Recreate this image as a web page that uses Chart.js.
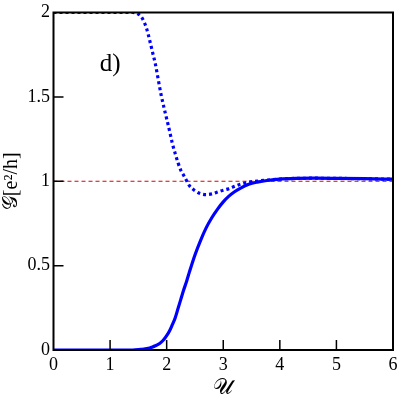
<!DOCTYPE html>
<html>
<head>
<meta charset="utf-8">
<script src="https://cdn.jsdelivr.net/npm/chart.js@4.4.1/dist/chart.umd.min.js"></script>
<style>
html,body{margin:0;padding:0;background:#fff;}
#wrap{width:399px;height:402px;position:relative;}
</style>
</head>
<body>
<div id="wrap"><canvas id="c" width="399" height="402"></canvas></div>
<script>
// Data
const uValues = [0, 1.0, 1.4, 1.5, 1.55, 1.6, 1.65, 1.7, 1.75, 1.8, 1.85, 1.9, 1.95, 2.0, 2.05, 2.1, 2.15, 2.2, 2.25, 2.3, 2.35, 2.4, 2.5, 2.6, 2.7, 2.8, 2.9, 3.0, 3.1, 3.2, 3.3, 3.45, 3.6, 3.8, 4.0, 4.3, 4.6, 5.0, 5.5, 6.0];
const solidG = [0, 0, 0, 0.002, 0.004, 0.006, 0.008, 0.012, 0.018, 0.025, 0.033, 0.045, 0.062, 0.085, 0.113, 0.15, 0.19, 0.245, 0.30, 0.355, 0.405, 0.46, 0.563, 0.65, 0.725, 0.785, 0.835, 0.878, 0.912, 0.938, 0.958, 0.982, 0.995, 1.006, 1.013, 1.017, 1.018, 1.017, 1.015, 1.012];
const dottedG = [2, 2, 2, 1.99, 1.975, 1.945, 1.90, 1.835, 1.765, 1.695, 1.605, 1.515, 1.44, 1.37, 1.30, 1.225, 1.165, 1.11, 1.065, 1.035, 1.005, 0.975, 0.944, 0.926, 0.921, 0.925, 0.936, 0.947, 0.956, 0.97, 0.982, 0.994, 1.001, 1.007, 1.013, 1.017, 1.018, 1.017, 1.015, 1.012];
const refU = [0, 6];
const refG = [1, 1];
const xTicks = [0, 1, 2, 3, 4, 5, 6];
const yTicks = [0, 0.5, 1, 1.5, 2];
const panelLabel = 'd)';
const panelLabelPos = [1.0, 1.69];
const xTitle = '𝒰';
const yTitle = '𝒢[e²/h]';

const pts = (xs, ys) => xs.map((x, i) => ({x: x, y: ys[i]}));
const SERIF = '"Liberation Serif"';

const frameAndTicks = {
  id: 'frameAndTicks',
  afterDatasetsDraw(chart) {
    const {ctx, chartArea: a, scales: {x, y}} = chart;
    ctx.save();
    ctx.strokeStyle = '#000';
    ctx.lineWidth = 1.5;
    ctx.beginPath();
    x.ticks.forEach((t, i) => {
      if (i === 0 || i === x.ticks.length - 1) return;
      const px = x.getPixelForValue(t.value);
      ctx.moveTo(px, a.bottom);
      ctx.lineTo(px, a.bottom - 10);
    });
    y.ticks.forEach((t, i) => {
      if (i === 0 || i === y.ticks.length - 1) return;
      const py = y.getPixelForValue(t.value);
      ctx.moveTo(a.left, py);
      ctx.lineTo(a.left + 10, py);
    });
    ctx.stroke();
    ctx.lineWidth = 2;
    ctx.strokeRect(a.left, a.top, a.right - a.left, a.bottom - a.top);

    // tick labels from the library's scale ticks
    ctx.fillStyle = '#000';
    ctx.font = '18px ' + SERIF;
    ctx.textAlign = 'center';
    ctx.textBaseline = 'middle';
    x.ticks.forEach(t => ctx.fillText(String(t.value), x.getPixelForValue(t.value), a.bottom + 15));
    ctx.textAlign = 'right';
    y.ticks.forEach(t => ctx.fillText(String(t.value), a.left - 3.5, y.getPixelForValue(t.value)));

    // panel label
    ctx.font = '25px ' + SERIF;
    ctx.textAlign = 'center';
    ctx.fillText(panelLabel, x.getPixelForValue(panelLabelPos[0]), y.getPixelForValue(panelLabelPos[1]));

    // axis titles
    ctx.font = '22px ' + SERIF;
    ctx.fillText(xTitle, (a.left + a.right) / 2, 388);
    ctx.save();
    ctx.translate(12, (a.top + a.bottom) / 2);
    ctx.rotate(-Math.PI / 2);
    ctx.font = '20px ' + SERIF;
    ctx.fillText(yTitle, 0, 0);
    ctx.restore();
    ctx.restore();
  }
};

new Chart(document.getElementById('c'), {
  type: 'line',
  data: {
    datasets: [
      {
        data: pts(uValues, solidG),
        borderColor: '#0000ff',
        borderWidth: 3.2,
        pointRadius: 0,
        cubicInterpolationMode: 'monotone',
        fill: false
      },
      {
        data: pts(uValues, dottedG),
        borderColor: '#0000ff',
        borderWidth: 3.2,
        borderDash: [3, 3],
        pointRadius: 0,
        cubicInterpolationMode: 'monotone',
        fill: false
      },
      {
        data: pts(refU, refG),
        borderColor: '#e00000',
        borderWidth: 1.1,
        borderDash: [4, 3],
        pointRadius: 0,
        fill: false
      }
    ]
  },
  options: {
    responsive: false,
    animation: false,
    devicePixelRatio: 1,
    layout: {padding: {top: 12.5, right: 6, left: 0, bottom: 0}},
    plugins: {legend: {display: false}, tooltip: {enabled: false}},
    scales: {
      x: {
        type: 'linear',
        min: 0, max: 6,
        afterFit(s) { s.height = 52; },
        afterBuildTicks(s) { s.ticks = xTicks.map(v => ({value: v})); },
        grid: {display: false},
        border: {display: false},
        ticks: {display: false}
      },
      y: {
        type: 'linear',
        min: 0, max: 2,
        afterFit(s) { s.width = 53.5; },
        afterBuildTicks(s) { s.ticks = yTicks.map(v => ({value: v})); },
        grid: {display: false},
        border: {display: false},
        ticks: {display: false}
      }
    }
  },
  plugins: [frameAndTicks]
});
</script>
</body>
</html>
